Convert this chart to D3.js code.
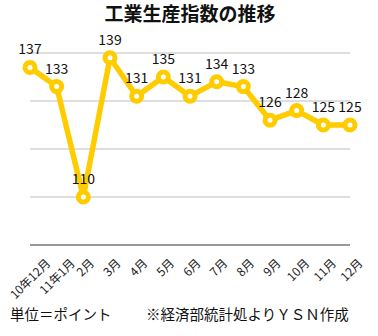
<!DOCTYPE html>
<html><head><meta charset="utf-8">
<script src="https://cdn.jsdelivr.net/npm/d3@7"></script>
<style>body{margin:0;background:#fff}svg{display:block}text{font-family:"Noto Sans CJK JP","Noto Sans",sans-serif}</style>
</head><body>
<svg id="c" width="378" height="336"></svg>
<script>
const categories = ["10年12月","11年1月","2月","3月","4月","5月","6月","7月","8月","9月","10月","11月","12月"];
const values = [137,133,110,139,131,135,131,134,133,126,128,125,125];
const yTicks = [110,120,130,140];
const title = "工業生産指数の推移";
const unitNote = "単位＝ポイント";
const sourceNote = "※経済部統計処よりＹＳＮ作成";

const svg = d3.select("#c");
const x = d3.scalePoint().domain(categories).range([30,350]);
const y = d3.scaleLinear().domain([100,140]).range([245,53]);

svg.append("text").attr("x",190).attr("y",21).attr("text-anchor","middle")
  .attr("font-size",19).attr("font-weight","bold").attr("fill","#111").text(title);

svg.append("g").selectAll("line").data(yTicks).join("line")
  .attr("x1",30).attr("x2",350).attr("y1",d=>y(d)).attr("y2",d=>y(d))
  .attr("stroke","#bdbdbd").attr("stroke-width",1);
svg.append("line").attr("x1",30).attr("x2",350).attr("y1",y(100)).attr("y2",y(100))
  .attr("stroke","#333").attr("stroke-width",1);

svg.append("g").selectAll("text").data(categories).join("text")
  .attr("text-anchor","end").attr("font-size",12).attr("fill","#222").text(d=>d)
  .each(function(d){
    const L = this.getComputedTextLength();
    d3.select(this).attr("transform",`translate(${x(d)+6+0.3*L},${y(100)+19}) rotate(-45)`);
  });

const line = d3.line().x((d,i)=>x(categories[i])).y(d=>y(d));
svg.append("path").datum(values).attr("d",line).attr("fill","none")
  .attr("stroke","#FFCC00").attr("stroke-width",5.5).attr("stroke-linejoin","round");
svg.append("g").selectAll("circle").data(values).join("circle")
  .attr("cx",(d,i)=>x(categories[i])).attr("cy",d=>y(d)).attr("r",5)
  .attr("fill","#fff").attr("stroke","#FFCC00").attr("stroke-width",5);

svg.append("g").selectAll("text").data(values).join("text")
  .attr("x",(d,i)=>x(categories[i])).attr("y",d=>y(d)-13)
  .attr("text-anchor","middle").attr("font-size",14).attr("fill","#111").text(d=>d);

svg.append("text").attr("x",10).attr("y",320).attr("font-size",14.5).attr("fill","#111").text(unitNote);
svg.append("text").attr("x",146).attr("y",320).attr("font-size",14.5).attr("fill","#111").text(sourceNote);
</script>
</body></html>
